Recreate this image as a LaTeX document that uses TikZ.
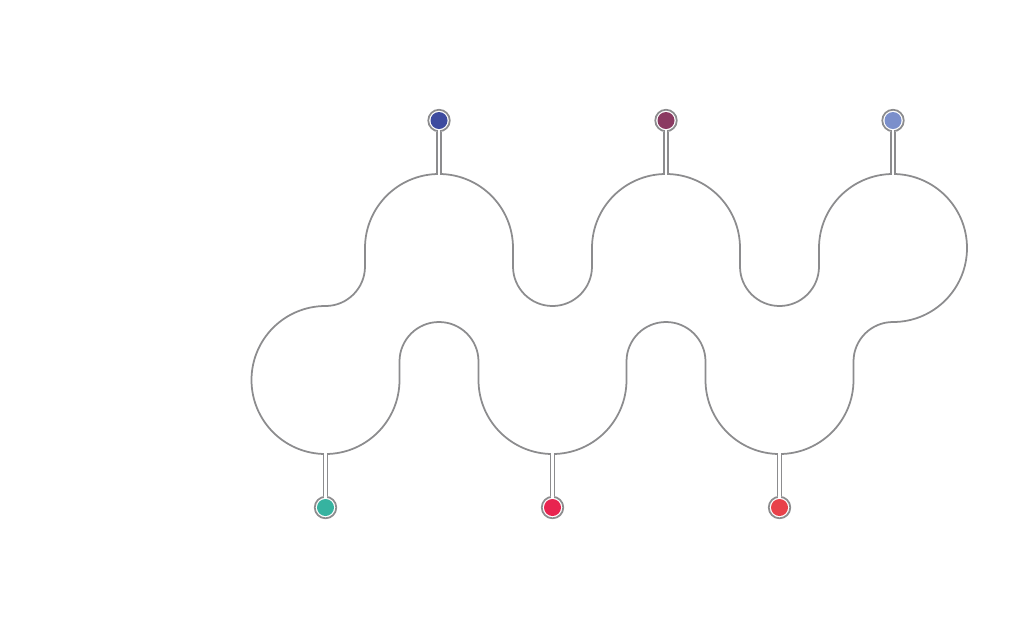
\documentclass[tikz,border=0pt]{standalone}
\usetikzlibrary{calc}
\definecolor{linegray}{HTML}{8C8C8E}
\definecolor{cA}{HTML}{3D4B9F}
\definecolor{cB}{HTML}{8B3A62}
\definecolor{cC}{HTML}{7B8FCB}
\definecolor{cD}{HTML}{36B3A0}
\definecolor{cE}{HTML}{E8234F}
\definecolor{cF}{HTML}{E8414A}
\tikzset{
  outline/.style={draw=linegray, line width=0.5pt, line join=round},
  ring/.style={circle, draw=linegray, line width=0.5pt, fill=white, minimum size=0.215cm, inner sep=0pt},
  dot/.style={circle, fill=#1, minimum size=0.17cm, inner sep=0pt},
  stemout/.style={draw=linegray, line width=1.7pt},
  stemin/.style={draw=white, line width=0.72pt},
}
\begin{document}
\begin{tikzpicture}[x=0.01cm,y=0.01cm]
\useasboundingbox (0,0) rectangle (1024,620);
\def\R{74}
\def\r{39.5}
% main outline
\draw[outline]
  (325.5,314) arc[start angle=-90, end angle=0, radius=\r]
  -- (365,372) arc[start angle=180, end angle=0, radius=\R]
  -- (513,353.5) arc[start angle=180, end angle=360, radius=\r]
  -- (592,372) arc[start angle=180, end angle=0, radius=\R]
  -- (740,353.5) arc[start angle=180, end angle=360, radius=\r]
  -- (819,372) arc[start angle=180, end angle=-90, radius=\R]
  arc[start angle=90, end angle=180, radius=\r]
  -- (853.5,240) arc[start angle=0, end angle=-180, radius=\R]
  -- (705.5,258.5) arc[start angle=0, end angle=180, radius=\r]
  -- (626.5,240) arc[start angle=0, end angle=-180, radius=\R]
  -- (478.5,258.5) arc[start angle=0, end angle=180, radius=\r]
  -- (399.5,240) arc[start angle=0, end angle=-270, radius=\R]
  -- cycle;
% stem ends on the outline
\coordinate (s1) at (439,446);
\coordinate (s2) at (666,446);
\coordinate (s3) at (893,446);
\coordinate (s4) at (325.5,166);
\coordinate (s5) at (552.5,166);
\coordinate (s6) at (779.5,166);
% rings
\node[ring] (r1) at (439,499.5) {};
\node[ring] (r2) at (666,499.5) {};
\node[ring] (r3) at (893,499.5) {};
\node[ring] (r4) at (325.5,112.5) {};
\node[ring] (r5) at (552.5,112.5) {};
\node[ring] (r6) at (779.5,112.5) {};
% stems
\foreach \i in {1,2,3}{
  \draw[stemout] (r\i.south) -- (s\i);
  \draw[stemin] (r\i.center) -- ($(s\i)+(0,-1.2)$);
}
\foreach \i in {4,5,6}{
  \draw[stemout] (r\i.north) -- (s\i);
  \draw[stemin] (r\i.center) -- ($(s\i)+(0,1.2)$);
}
% coloured dots
\node[dot=cA] (d1) at (r1.center) {};
\node[dot=cB] (d2) at (r2.center) {};
\node[dot=cC] (d3) at (r3.center) {};
\node[dot=cD] (d4) at (r4.center) {};
\node[dot=cE] (d5) at (r5.center) {};
\node[dot=cF] (d6) at (r6.center) {};
\end{tikzpicture}
\end{document}
